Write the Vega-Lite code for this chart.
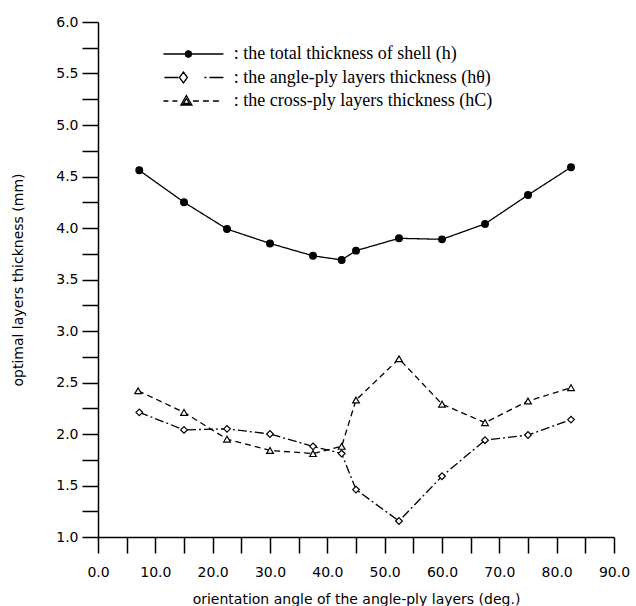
{
  "$schema": "https://vega.github.io/schema/vega-lite/v6.json",
  "width": 516,
  "height": 515,
  "autosize": {"type": "none"},
  "padding": {"left": 98, "top": 22, "right": 22, "bottom": 69},
  "background": "white",
  "config": {
    "view": {"stroke": null},
    "axis": {
      "grid": false,
      "domainColor": "black",
      "domainWidth": 1.5,
      "tickColor": "black",
      "tickWidth": 1.5,
      "tickSize": 16,
      "labelFont": "DejaVu Sans",
      "labelFontSize": 14,
      "labelColor": "black",
      "labelFlush": false,
      "labelOverlap": false,
      "titleFont": "DejaVu Sans",
      "titleFontSize": 14,
      "titleFontWeight": "normal",
      "titleColor": "black"
    }
  },
  "data": {
    "values": [
      {"series": "the total thickness of shell (h)", "angle": 7.2, "thickness": 4.56},
      {"series": "the total thickness of shell (h)", "angle": 15, "thickness": 4.25},
      {"series": "the total thickness of shell (h)", "angle": 22.5, "thickness": 3.99},
      {"series": "the total thickness of shell (h)", "angle": 30, "thickness": 3.85},
      {"series": "the total thickness of shell (h)", "angle": 37.5, "thickness": 3.73},
      {"series": "the total thickness of shell (h)", "angle": 42.5, "thickness": 3.69},
      {"series": "the total thickness of shell (h)", "angle": 45, "thickness": 3.78},
      {"series": "the total thickness of shell (h)", "angle": 52.5, "thickness": 3.9},
      {"series": "the total thickness of shell (h)", "angle": 60, "thickness": 3.89},
      {"series": "the total thickness of shell (h)", "angle": 67.5, "thickness": 4.04},
      {"series": "the total thickness of shell (h)", "angle": 75, "thickness": 4.32},
      {"series": "the total thickness of shell (h)", "angle": 82.5, "thickness": 4.59},
      {"series": "the angle-ply layers thickness (hθ)", "angle": 7.2, "thickness": 2.21},
      {"series": "the angle-ply layers thickness (hθ)", "angle": 15, "thickness": 2.04},
      {"series": "the angle-ply layers thickness (hθ)", "angle": 22.5, "thickness": 2.05},
      {"series": "the angle-ply layers thickness (hθ)", "angle": 30, "thickness": 2.0},
      {"series": "the angle-ply layers thickness (hθ)", "angle": 37.5, "thickness": 1.88},
      {"series": "the angle-ply layers thickness (hθ)", "angle": 42.5, "thickness": 1.81},
      {"series": "the angle-ply layers thickness (hθ)", "angle": 45, "thickness": 1.46},
      {"series": "the angle-ply layers thickness (hθ)", "angle": 52.5, "thickness": 1.155},
      {"series": "the angle-ply layers thickness (hθ)", "angle": 60, "thickness": 1.59},
      {"series": "the angle-ply layers thickness (hθ)", "angle": 67.5, "thickness": 1.94},
      {"series": "the angle-ply layers thickness (hθ)", "angle": 75, "thickness": 1.99},
      {"series": "the angle-ply layers thickness (hθ)", "angle": 82.5, "thickness": 2.14},
      {"series": "the cross-ply layers thickness (hC)", "angle": 7.0, "thickness": 2.42},
      {"series": "the cross-ply layers thickness (hC)", "angle": 15, "thickness": 2.21},
      {"series": "the cross-ply layers thickness (hC)", "angle": 22.5, "thickness": 1.95},
      {"series": "the cross-ply layers thickness (hC)", "angle": 30, "thickness": 1.84},
      {"series": "the cross-ply layers thickness (hC)", "angle": 37.5, "thickness": 1.81},
      {"series": "the cross-ply layers thickness (hC)", "angle": 42.5, "thickness": 1.88},
      {"series": "the cross-ply layers thickness (hC)", "angle": 45, "thickness": 2.33},
      {"series": "the cross-ply layers thickness (hC)", "angle": 52.5, "thickness": 2.73},
      {"series": "the cross-ply layers thickness (hC)", "angle": 60, "thickness": 2.29},
      {"series": "the cross-ply layers thickness (hC)", "angle": 67.5, "thickness": 2.11},
      {"series": "the cross-ply layers thickness (hC)", "angle": 75, "thickness": 2.32},
      {"series": "the cross-ply layers thickness (hC)", "angle": 82.5, "thickness": 2.45}
    ]
  },
  "encoding": {
    "x": {
      "field": "angle",
      "type": "quantitative",
      "scale": {"domain": [0, 90], "nice": false, "zero": false},
      "axis": {
        "title": "orientation angle of the angle-ply layers (deg.)",
        "values": [0, 5, 10, 15, 20, 25, 30, 35, 40, 45, 50, 55, 60, 65, 70, 75, 80, 85, 90],
        "labelExpr": "datum.value % 10 === 0 ? format(datum.value, '.1f') : ''",
        "labelPadding": 12,
        "titlePadding": 13,
        "encode": {"ticks": {"y2": {"value": {"signal": "datum.value % 10 === 0 ? 16 : 8"}}}}
      }
    },
    "y": {
      "field": "thickness",
      "type": "quantitative",
      "scale": {"domain": [1, 6], "nice": false, "zero": false},
      "axis": {
        "title": "optimal layers thickness (mm)",
        "values": [1, 1.25, 1.5, 1.75, 2, 2.25, 2.5, 2.75, 3, 3.25, 3.5, 3.75, 4, 4.25, 4.5, 4.75, 5, 5.25, 5.5, 5.75, 6],
        "labelExpr": "(datum.value * 2) % 1 === 0 ? format(datum.value, '.1f') : ''",
        "labelPadding": 4,
        "titlePadding": 30,
        "encode": {"ticks": {"x2": {"value": {"signal": "(datum.value * 2) % 1 === 0 ? -16 : -8"}}}}
      }
    }
  },
  "resolve": {"scale": {"shape": "independent", "fill": "independent", "strokeDash": "independent"}},
  "layer": [
    {
      "mark": {"type": "line", "stroke": "black", "strokeWidth": 1.3},
      "encoding": {
        "strokeDash": {
          "field": "series",
          "type": "nominal",
          "sort": ["the total thickness of shell (h)", "the angle-ply layers thickness (hθ)", "the cross-ply layers thickness (hC)"],
          "scale": {"range": [[1, 0], [9, 3, 2, 3], [6, 4]]},
          "legend": null
        }
      }
    },
    {
      "mark": {"type": "point", "filled": true, "stroke": "black", "strokeWidth": 1.2, "size": 45, "opacity": 1},
      "encoding": {
        "fill": {
          "condition": {"test": "indexof(datum.series, 'total') >= 0", "value": "black"},
          "value": "white"
        },
        "shape": {
          "field": "series",
          "type": "nominal",
          "sort": ["the total thickness of shell (h)", "the angle-ply layers thickness (hθ)", "the cross-ply layers thickness (hC)"],
          "scale": {"range": ["circle", "diamond", "triangle-up"]},
          "legend": null
        }
      }
    },
    {
      "data": {"values": []},
      "mark": {"type": "point", "filled": false, "stroke": "black", "strokeWidth": 1.3, "opacity": 1},
      "encoding": {
        "shape": {
          "field": "series",
          "type": "nominal",
          "scale": {
            "domain": ["the total thickness of shell (h)", "the angle-ply layers thickness (hθ)", "the cross-ply layers thickness (hC)"],
            "range": [
              "M-3,0H3M-0.17,0L-0.267,-0.233L-0.5,-0.33L-0.733,-0.233L-0.83,0L-0.733,0.233L-0.5,0.33L-0.267,0.233ZM-0.28,0L-0.344,-0.156L-0.5,-0.22L-0.656,-0.156L-0.72,0L-0.656,0.156L-0.5,0.22L-0.344,0.156ZM-0.6,-0.06H-0.4M-0.6,0.06H-0.4",
              "M-2.9,0H-1.5M-1,-0.55L-0.6,0L-1,0.55L-1.4,0ZM1.1,0H1.3M1.6,0H3",
              "M-3,0H-2.5M-2.1,0H-1.6M-0.7,-0.55L-0.15,0.4L-1.25,0.4ZM-0.7,-0.25L-0.4,0.25L-1,0.25ZM-0.05,0H0.55M0.95,0H1.55M1.95,0H2.55"
            ]
          },
          "legend": {
            "orient": "none",
            "legendX": 84.4,
            "legendY": 21,
            "title": null,
            "symbolSize": 400,
            "symbolStrokeColor": "black",
            "symbolStrokeWidth": 1.3,
            "symbolOpacity": 1,
            "labelFont": "Liberation Serif",
            "labelFontSize": 18,
            "labelColor": "black",
            "labelOffset": 29.4,
            "labelLimit": 450,
            "rowPadding": 3.5,
            "labelExpr": "': ' + datum.label"
          }
        }
      }
    }
  ]
}
